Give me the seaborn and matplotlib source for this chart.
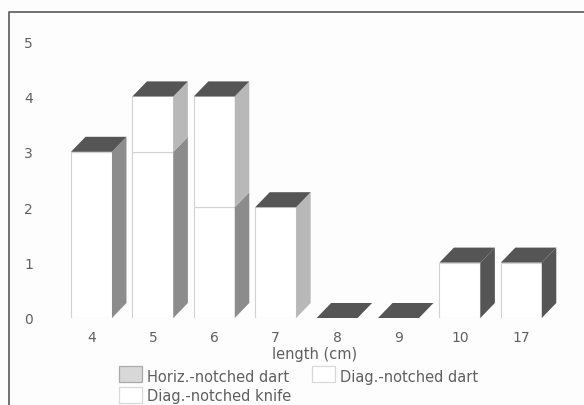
import matplotlib
matplotlib.use("Agg")
import matplotlib.pyplot as plt
import seaborn as sns
import pandas as pd
from matplotlib.patches import Polygon, Rectangle

lengths = ["4", "5", "6", "7", "8", "9", "10", "17"]
horiz_dart = [0, 0, 0, 0, 0, 0, 0, 0]
diag_dart = [3, 3, 2, 0, 0, 0, 0, 0]
diag_knife = [0, 1, 2, 2, 0, 0, 1, 1]
series_names = ["Horiz.-notched dart", "Diag.-notched dart", "Diag.-notched knife"]

W, H = 584, 406
sns.set_theme(style="white")
plt.rcParams["font.family"] = ["DejaVu Sans"]
fig = plt.figure(figsize=(W / 100, H / 100), dpi=100, facecolor="#fdfdfd")

# axes box in pixels
px_step = 61.4
left = 91.5 - 0.5 * px_step
right = left + 8 * px_step
y0, y5 = 319, 42
ax = fig.add_axes([left / W, 1 - y0 / H, (right - left) / W, (y0 - y5) / H])
ax.patch.set_alpha(0)

text_color = "#606060"
edge = "#d2d2d2"
bar_w = 0.667
dx = 14.5 / px_step
dy = 15 / ((y0 - y5) / 5)
top_color = "#555555"

df = pd.DataFrame({"length": lengths, "horiz": horiz_dart, "dart": diag_dart, "knife": diag_knife})
sns.barplot(data=df, x="length", y="dart", order=lengths, color="white", saturation=1,
            width=bar_w, edgecolor=edge, linewidth=0.8, ax=ax)
sns.barplot(data=df, x="length", y="knife", order=lengths, color="white", saturation=1,
            width=bar_w, edgecolor=edge, linewidth=0.8, bottom=df["dart"].to_numpy(), ax=ax)

for i, (a, b) in enumerate(zip(diag_dart, diag_knife)):
    xr = i + bar_w / 2
    xl = i - bar_w / 2
    total = a + b
    if a > 0:
        ax.add_patch(Polygon([(xr, 0), (xr + dx, dy), (xr + dx, a + dy), (xr, a)],
                             fc="#8c8c8c", ec="none", zorder=3, clip_on=False))
    if b > 0:
        c = "#555555" if lengths[i] in ("10", "17") else "#b8b8b8"
        ax.add_patch(Polygon([(xr, a), (xr + dx, a + dy), (xr + dx, total + dy), (xr, total)],
                             fc=c, ec="none", zorder=3, clip_on=False))
    ax.add_patch(Polygon([(xl, total), (xl + dx, total + dy), (xr + dx, total + dy), (xr, total)],
                         fc=top_color, ec="none", zorder=3, clip_on=False))

ax.set_xlim(-0.5, 7.5)
ax.set_ylim(0, 5)
ax.set_yticks(range(6))
ax.set_xlabel("length (cm)", fontsize=10.5, color=text_color, labelpad=1.5,
              x=(314.5 - left) / (right - left))
ax.set_ylabel("")
ax.tick_params(axis="both", length=0, labelsize=10, labelcolor=text_color)
ax.tick_params(axis="x", pad=8.5)
ax.tick_params(axis="y", pad=(left - 33) * 0.72)
sns.despine(ax=ax, left=True, bottom=True, top=True, right=True)

# outer frame: the scan crops it at the right and bottom
fig.add_artist(plt.Line2D([8.5 / W, 8.5 / W, 1], [0, 1 - 13 / H, 1 - 13 / H],
                          color="#666666", lw=1.3, transform=fig.transFigure))

def legend_item(px, py, tpy, label, fc, ec):
    fig.add_artist(Rectangle((px / W, 1 - (py + 8) / H), 23 / W, 16 / H, fc=fc, ec=ec, lw=0.9,
                             transform=fig.transFigure))
    fig.text((px + 28) / W, 1 - tpy / H, label, fontsize=10.5, color=text_color, va="center", ha="left")

legend_item(119, 375, 378, series_names[0], "#d8d8d8", "#aaaaaa")
legend_item(312, 375, 378, series_names[1], "white", "#d8d8d8")
legend_item(119, 396, 397, series_names[2], "white", "#d8d8d8")

fig.savefig("out.png", dpi=100, facecolor=fig.get_facecolor())
